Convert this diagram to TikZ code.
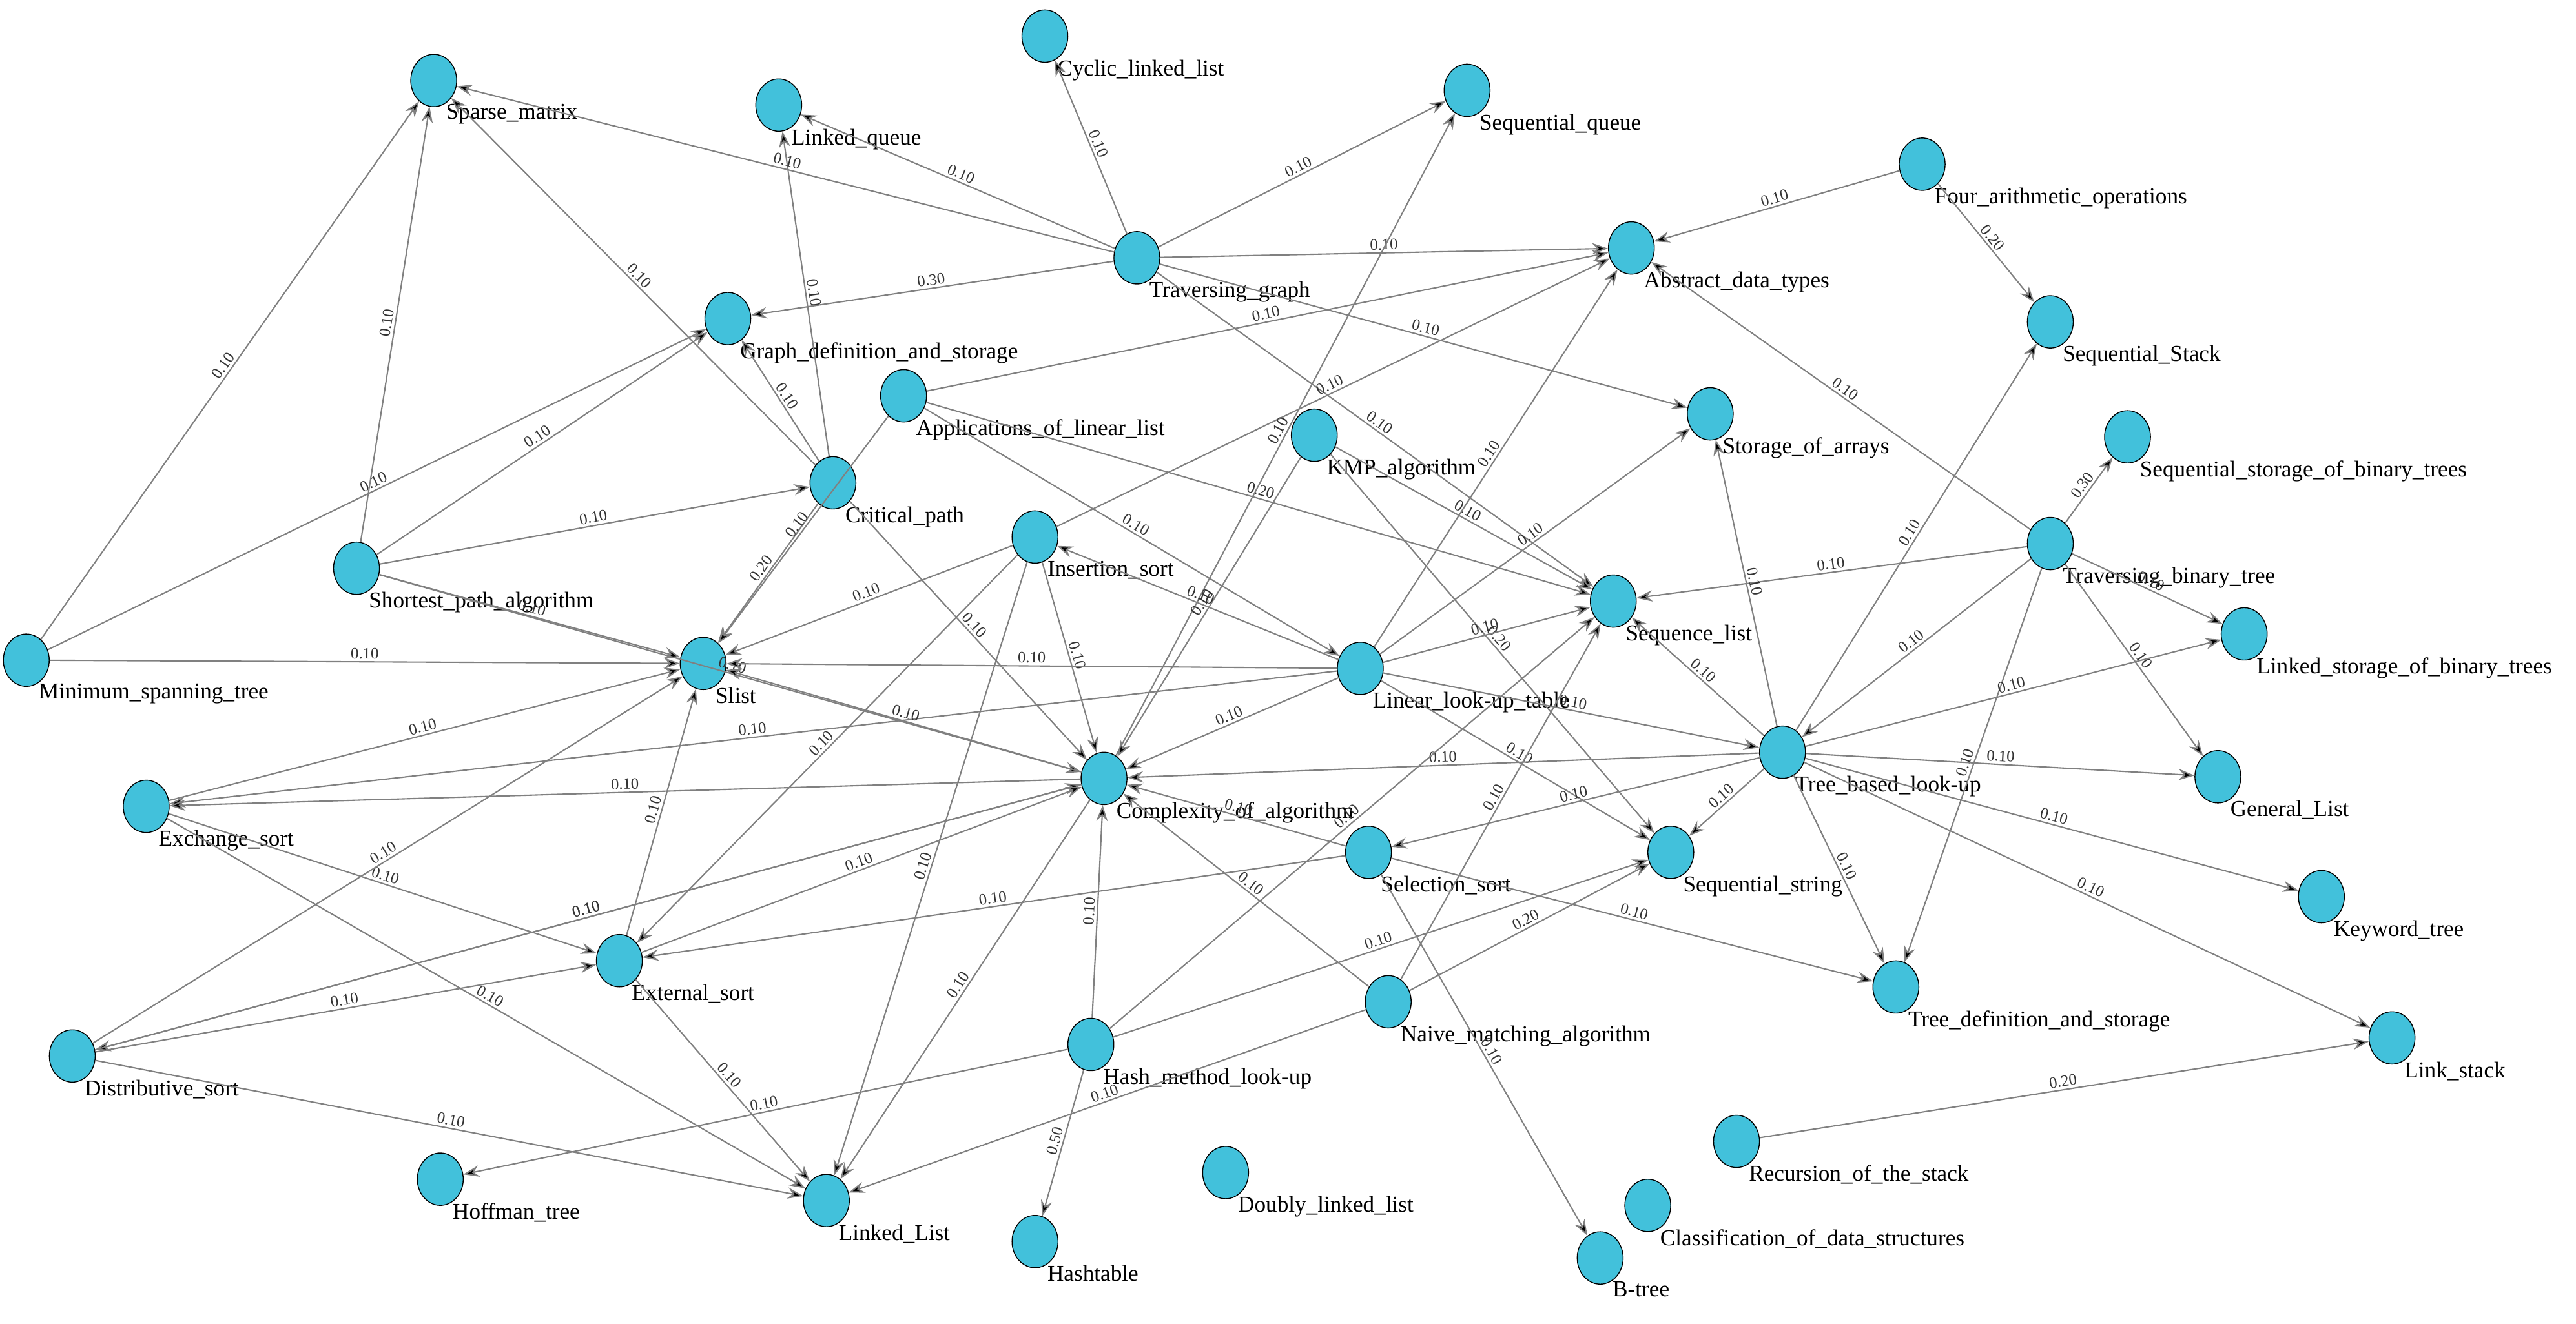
\documentclass[tikz,border=0pt]{standalone}
\usepackage{fontspec}
\setmainfont{Liberation Serif}
\usetikzlibrary{quotes,shapes.geometric,arrows.meta}

\begin{document}
\begin{tikzpicture}[x=0.0254cm,y=-0.0254cm,
	sommet/.style={ellipse,draw=black,thin,fill=sommetbleu,minimum width=0.71cm,minimum height=0.81cm,inner sep=0pt,
		label={[anchor=north west,inner sep=1pt,font=\fontsize{10}{10}\selectfont,xshift=-3pt,yshift=-1pt]south east:#1}},
	arc/.style={->,draw=gray!75!black!80,line width=0.6pt,>={Stealth[length=7pt,width=5pt]}},
	every edge quotes/.style={sloped,above,inner sep=1pt,font=\fontsize{7}{7}\selectfont,text=black!80}]
	\definecolor{sommetbleu}{RGB}{66,193,219}
	\useasboundingbox (0,0) rectangle (1568,806);
	%\node (nom) at(x,y) [sommet=etiquette] {} ;
	\node (sparse) at(264,49) [sommet=Sparse\_matrix] {} ;
	\node (lqueue) at(474,64) [sommet=Linked\_queue] {} ;
	\node (cyclic) at(636,22) [sommet=Cyclic\_linked\_list] {} ;
	\node (squeue) at(893,55) [sommet=Sequential\_queue] {} ;
	\node (four) at(1170,100) [sommet=Four\_arithmetic\_operations] {} ;
	\node (adt) at(993,151) [sommet=Abstract\_data\_types] {} ;
	\node (tgraph) at(692,157) [sommet=Traversing\_graph] {} ;
	\node (graphdef) at(443,194) [sommet=Graph\_definition\_and\_storage] {} ;
	\node (sstack) at(1248,196) [sommet=Sequential\_Stack] {} ;
	\node (applin) at(550,241) [sommet=Applications\_of\_linear\_list] {} ;
	\node (kmp) at(800,265) [sommet=KMP\_algorithm] {} ;
	\node (sarrays) at(1041,252) [sommet=Storage\_of\_arrays] {} ;
	\node (critical) at(507,294) [sommet=Critical\_path] {} ;
	\node (seqbin) at(1295,266) [sommet=Sequential\_storage\_of\_binary\_trees] {} ;
	\node (insertion) at(630,327) [sommet=Insertion\_sort] {} ;
	\node (tbintree) at(1248,331) [sommet=Traversing\_binary\_tree] {} ;
	\node (shortest) at(217,346) [sommet=Shortest\_path\_algorithm] {} ;
	\node (seqlist) at(982,366) [sommet=Sequence\_list] {} ;
	\node (minspan) at(16,402) [sommet=Minimum\_spanning\_tree] {} ;
	\node (slist) at(428,404) [sommet=Slist] {} ;
	\node (linear) at(828,407) [sommet=Linear\_look-up\_table] {} ;
	\node (linkbin) at(1366,386) [sommet=Linked\_storage\_of\_binary\_trees] {} ;
	\node (treelook) at(1085,458) [sommet=Tree\_based\_look-up] {} ;
	\node (general) at(1350,473) [sommet=General\_List] {} ;
	\node (complexity) at(672,474) [sommet=Complexity\_of\_algorithm] {} ;
	\node (exchange) at(89,491) [sommet=Exchange\_sort] {} ;
	\node (selection) at(833,519) [sommet=Selection\_sort] {} ;
	\node (sstring) at(1017,519) [sommet=Sequential\_string] {} ;
	\node (keyword) at(1413,546) [sommet=Keyword\_tree] {} ;
	\node (external) at(377,585) [sommet=External\_sort] {} ;
	\node (treedef) at(1154,601) [sommet=Tree\_definition\_and\_storage] {} ;
	\node (naive) at(845,610) [sommet=Naive\_matching\_algorithm] {} ;
	\node (linkstack) at(1456,632) [sommet=Link\_stack] {} ;
	\node (distrib) at(44,643) [sommet=Distributive\_sort] {} ;
	\node (hash) at(664,636) [sommet=Hash\_method\_look-up] {} ;
	\node (recursion) at(1057,695) [sommet=Recursion\_of\_the\_stack] {} ;
	\node (hoffman) at(268,718) [sommet=Hoffman\_tree] {} ;
	\node (llist) at(503,731) [sommet=Linked\_List] {} ;
	\node (doubly) at(746,714) [sommet=Doubly\_linked\_list] {} ;
	\node (classif) at(1003,734) [sommet=Classification\_of\_data\_structures] {} ;
	\node (hashtable) at(630,756) [sommet=Hashtable] {} ;
	\node (btree) at(974,766) [sommet=B-tree] {} ;

	%\path (noeud A) edge[arc,"poids"] (noeud B);
	\path[arc]
	(minspan) edge["0.10"] (sparse)
	(minspan) edge["0.10"] (graphdef)
	(minspan) edge["0.10"] (slist)
	(shortest) edge["0.10"] (sparse)
	(shortest) edge["0.10"] (graphdef)
	(shortest) edge["0.10"] (critical)
	(shortest) edge["0.10"] (slist)
	(shortest) edge["0.10"] (complexity)
	(critical) edge["0.10"] (sparse)
	(critical) edge["0.10"] (lqueue)
	(critical) edge["0.10"] (graphdef)
	(critical) edge["0.20"] (slist)
	(critical) edge["0.10"] (complexity)
	(tgraph) edge["0.10"] (sparse)
	(tgraph) edge["0.10"] (lqueue)
	(tgraph) edge["0.10"] (cyclic)
	(tgraph) edge["0.30"] (graphdef)
	(tgraph) edge["0.10"] (squeue)
	(tgraph) edge["0.10"] (adt)
	(tgraph) edge["0.10"] (sarrays)
	(tgraph) edge["0.10"] (seqlist)
	(four) edge["0.10"] (adt)
	(four) edge["0.20"] (sstack)
	(applin) edge["0.10"] (adt)
	(applin) edge["0.10"] (slist)
	(applin) edge["0.10"] (linear)
	(applin) edge["0.20"] (seqlist)
	(insertion) edge["0.10"] (adt)
	(insertion) edge["0.10"] (slist)
	(insertion) edge["0.10"] (external)
	(insertion) edge["0.10"] (llist)
	(insertion) edge["0.10"] (complexity)
	(complexity) edge["0.10"] (squeue)
	(kmp) edge["0.10"] (complexity)
	(kmp) edge["0.10"] (seqlist)
	(kmp) edge["0.20"] (sstring)
	(linear) edge["0.10"] (adt)
	(linear) edge["0.10"] (sarrays)
	(linear) edge["0.10"] (insertion)
	(linear) edge["0.10"] (seqlist)
	(linear) edge["0.10"] (slist)
	(linear) edge["0.10"] (complexity)
	(linear) edge["0.10"] (exchange)
	(linear) edge["0.10"] (treelook)
	(linear) edge["0.10"] (sstring)
	(tbintree) edge["0.10"] (adt)
	(tbintree) edge["0.30"] (seqbin)
	(tbintree) edge["0.10"] (linkbin)
	(tbintree) edge["0.10"] (seqlist)
	(tbintree) edge["0.10"] (treelook)
	(tbintree) edge["0.10"] (general)
	(tbintree) edge["0.10"] (treedef)
	(treelook) edge["0.10"] (sarrays)
	(treelook) edge["0.10"] (sstack)
	(treelook) edge["0.10"] (linkbin)
	(treelook) edge["0.10"] (seqlist)
	(treelook) edge["0.10"] (complexity)
	(treelook) edge["0.10"] (selection)
	(treelook) edge["0.10"] (sstring)
	(treelook) edge["0.10"] (treedef)
	(treelook) edge["0.10"] (general)
	(treelook) edge["0.10"] (keyword)
	(treelook) edge["0.10"] (linkstack)
	(complexity) edge["0.10"] (slist)
	(complexity) edge["0.10"] (exchange)
	(complexity) edge["0.10"] (distrib)
	(complexity) edge["0.10"] (llist)
	(exchange) edge["0.10"] (slist)
	(exchange) edge["0.10"] (external)
	(exchange) edge["0.10"] (llist)
	(distrib) edge["0.10"] (slist)
	(distrib) edge["0.10"] (complexity)
	(distrib) edge["0.10"] (external)
	(distrib) edge["0.10"] (llist)
	(external) edge["0.10"] (slist)
	(external) edge["0.10"] (complexity)
	(external) edge["0.10"] (llist)
	(selection) edge["0.10"] (external)
	(selection) edge["0.10"] (complexity)
	(selection) edge["0.10"] (treedef)
	(selection) edge["0.10"] (btree)
	(naive) edge["0.10"] (llist)
	(naive) edge["0.10"] (complexity)
	(naive) edge["0.10"] (seqlist)
	(naive) edge["0.20"] (sstring)
	(hash) edge["0.10"] (hoffman)
	(hash) edge["0.50"] (hashtable)
	(hash) edge["0.10"] (complexity)
	(hash) edge["0.10"] (seqlist)
	(hash) edge["0.10"] (sstring)
	(recursion) edge["0.20"] (linkstack)
	;
\end{tikzpicture}
\end{document}
